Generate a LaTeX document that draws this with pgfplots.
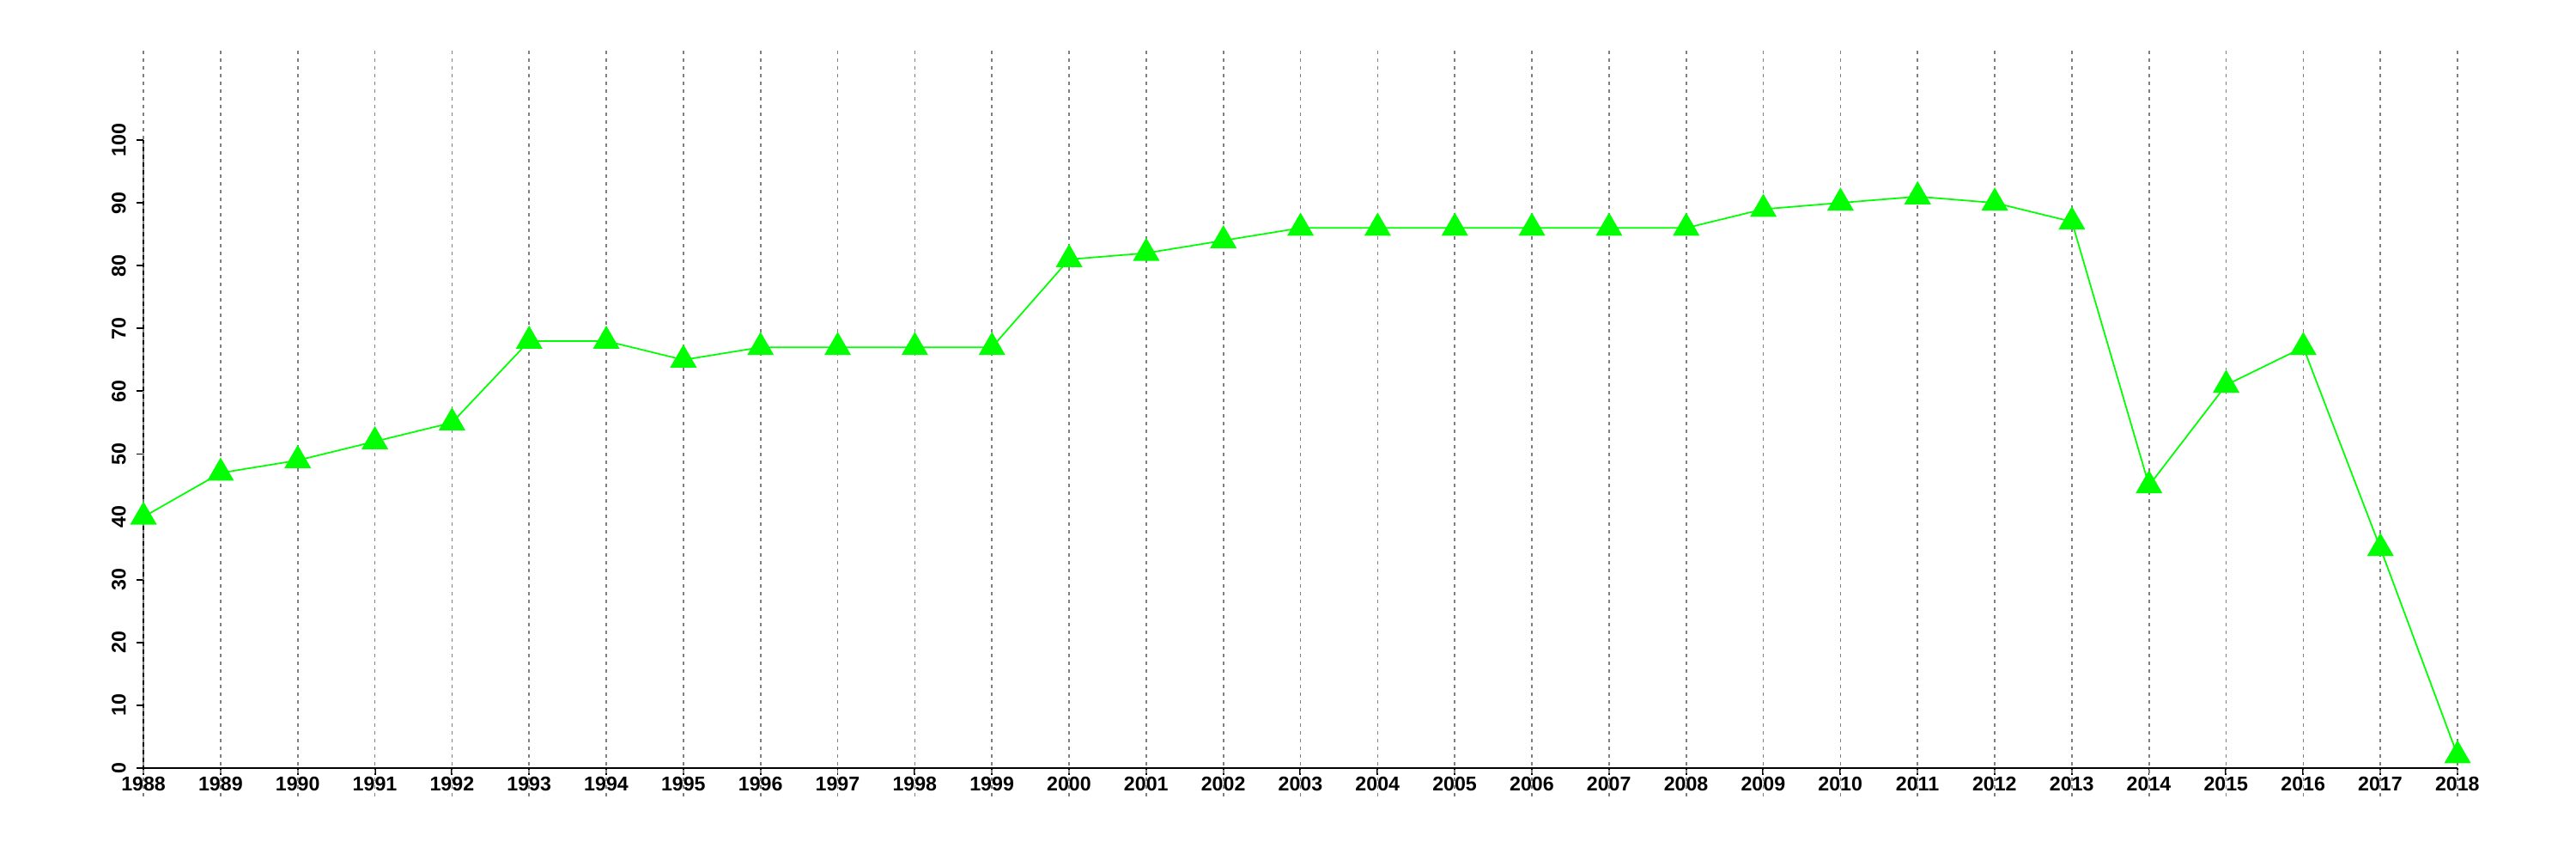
\documentclass[border=0pt]{standalone}
\usepackage{fontspec}
\setmainfont{Liberation Sans}
\usepackage{pgfplots}
\pgfplotsset{compat=1.18}
\definecolor{lgreen}{RGB}{0,255,0}
\definecolor{gridgray}{RGB}{128,128,128}

\begin{document}
\begin{tikzpicture}
\begin{axis}[
  scale only axis,
  width=269.5mm, height=73.1mm,
  xmin=1988, xmax=2018, ymin=0, ymax=100,
  axis lines=left,
  axis line style={-, line width=0.55pt, black},
  xtick={1988,1989,...,2018},
  ytick={0,10,...,100},
  tick align=outside,
  major tick length=0.8mm,
  tick style={black, line width=0.55pt},
  clip=false,
  /pgf/number format/assume math mode=true,
  xticklabel={\pgfmathprintnumber[1000 sep={},fixed,precision=0]{\tick}},
  ticklabel style={font=\fontsize{6.6}{7}\selectfont\bfseries},
  xticklabel style={inner sep=0.4pt},
  yticklabel style={rotate=90, anchor=south},
]
% background box sets the page to the reference proportions
\path (rel axis cs:-0.062,-0.145) rectangle (rel axis cs:1.0512,1.2230);
% vertical dotted guides at every year
\pgfplotsinvokeforeach{1988,1989,...,2018}{
  \draw[gridgray, line width=0.45pt, dash pattern=on 0.4mm off 0.5mm]
    (axis cs:#1,-4.5) -- (axis cs:#1,114.2);
}
\addplot[color=lgreen, line width=0.5pt, mark=triangle*, mark size=4.6pt,
  mark options={fill=lgreen, draw=none}]
  coordinates {
  (1988,40)(1989,47)(1990,49)(1991,52)(1992,55)(1993,68)(1994,68)
  (1995,65)(1996,67)(1997,67)(1998,67)(1999,67)(2000,81)(2001,82)
  (2002,84)(2003,86)(2004,86)(2005,86)(2006,86)(2007,86)(2008,86)
  (2009,89)(2010,90)(2011,91)(2012,90)(2013,87)(2014,45)(2015,61)
  (2016,67)(2017,35)(2018,2)};
\end{axis}
\end{tikzpicture}
\end{document}
